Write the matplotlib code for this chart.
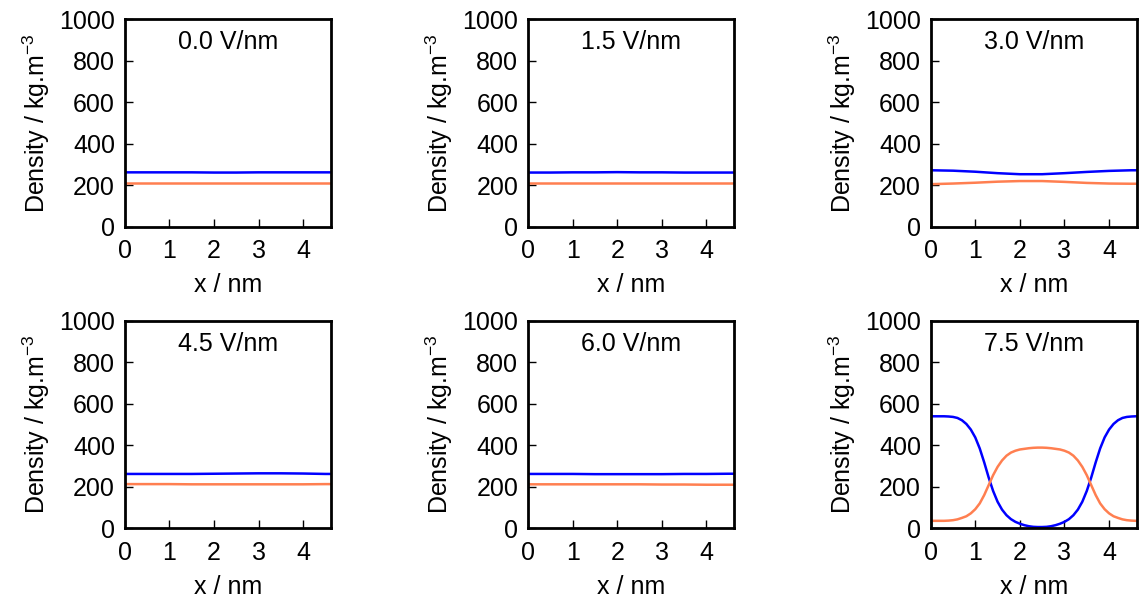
import matplotlib
matplotlib.use("Agg")
import matplotlib.pyplot as plt
import numpy as np

plt.rcParams['font.family'] = ['Liberation Sans', 'DejaVu Sans']
plt.rcParams['mathtext.fontset'] = 'custom'
plt.rcParams['mathtext.rm'] = 'Liberation Sans'
plt.rcParams['mathtext.it'] = 'Liberation Sans'

BLUE = '#0000ff'
CORAL = '#ff7f50'

# field strengths shown in each panel
fields = ['0.0 V/nm', '1.5 V/nm', '3.0 V/nm', '4.5 V/nm', '6.0 V/nm', '7.5 V/nm']

# coarse grid for the nearly flat profiles
x_flat = [0.0, 0.5, 1.0, 1.5, 2.0, 2.5, 3.0, 3.5, 4.0, 4.5, 4.62]

blue_00 = [262, 262, 262, 262, 261, 261, 262, 262, 262, 262, 262]
coral_00 = [212, 212, 212, 212, 212, 212, 212, 212, 212, 212, 212]

blue_15 = [261, 261, 262, 262, 263, 262, 262, 261, 261, 261, 261]
coral_15 = [212, 212, 212, 212, 212, 212, 212, 212, 212, 212, 212]

blue_30 = [272, 270, 265, 258, 253, 253, 258, 264, 269, 272, 272]
coral_30 = [205, 208, 212, 217, 220, 220, 216, 211, 208, 207, 207]

blue_45 = [262, 262, 262, 262, 263, 264, 265, 265, 264, 262, 262]
coral_45 = [213, 213, 213, 212, 212, 212, 212, 212, 212, 213, 213]

blue_60 = [262, 262, 262, 261, 261, 261, 261, 262, 262, 263, 263]
coral_60 = [212, 212, 212, 212, 212, 212, 211, 211, 210, 210, 210]

# finer grid for the separated 7.5 V/nm case
x_fine = [0.0, 0.1, 0.2, 0.3, 0.4, 0.5, 0.6, 0.7, 0.8, 0.9,
          1.0, 1.1, 1.2, 1.3, 1.4, 1.5, 1.6, 1.7, 1.8, 1.9,
          2.0, 2.1, 2.2, 2.3, 2.4, 2.5, 2.6, 2.7, 2.8, 2.9,
          3.0, 3.1, 3.2, 3.3, 3.4, 3.5, 3.6, 3.7, 3.8, 3.9,
          4.0, 4.1, 4.2, 4.3, 4.4, 4.5, 4.6]

blue_75 = [540, 540, 540, 540, 539, 537, 532, 521, 503, 476,
           438, 385, 318, 245, 180, 128, 90, 63, 44, 31,
           22, 15, 10, 7, 6, 6, 7, 10, 15, 22,
           31, 44, 63, 90, 128, 180, 245, 318, 385, 438,
           476, 503, 521, 532, 537, 539, 540]
coral_75 = [36, 36, 36, 36, 37, 39, 43, 50, 58, 72,
            92, 120, 160, 208, 256, 296, 327, 350, 365, 374,
            380, 383, 386, 388, 389, 389, 388, 386, 383, 380,
            374, 365, 350, 327, 296, 256, 208, 160, 120, 92,
            72, 58, 50, 43, 39, 37, 36]

panels = [
    (x_flat, blue_00, coral_00),
    (x_flat, blue_15, coral_15),
    (x_flat, blue_30, coral_30),
    (x_flat, blue_45, coral_45),
    (x_flat, blue_60, coral_60),
    (x_fine, blue_75, coral_75),
]

fig = plt.figure(figsize=(11.39, 5.97), dpi=100)

lefts = [0.1095, 0.4636, 0.8171]
bottoms = [0.6203, 0.1151]
w, h = 0.1809, 0.3474
fs = 18

for i, (xs, b, c) in enumerate(panels):
    ax = fig.add_axes([lefts[i % 3], bottoms[i // 3], w, h])
    ax.plot(xs, b, color=BLUE, lw=1.8)
    ax.plot(xs, c, color=CORAL, lw=1.8)
    ax.set_xlim(0, 4.62)
    ax.set_ylim(0, 1000)
    ax.set_xticks([0, 1, 2, 3, 4])
    ax.set_yticks([0, 200, 400, 600, 800, 1000])
    ax.tick_params(direction='in', length=6, width=1, labelsize=fs,
                   top=False, right=False, pad=7)
    ax.tick_params(axis='x', pad=9)
    for sp in ax.spines.values():
        sp.set_linewidth(2)
    ax.set_xlabel('x / nm', fontsize=fs, labelpad=7)
    ax.set_ylabel('Density / kg.m$^{-3}$', fontsize=fs, labelpad=5)
    ax.text(0.5, 0.89, fields[i], transform=ax.transAxes, ha='center',
            va='center', fontsize=fs)

fig.savefig('out.png', dpi=100)
